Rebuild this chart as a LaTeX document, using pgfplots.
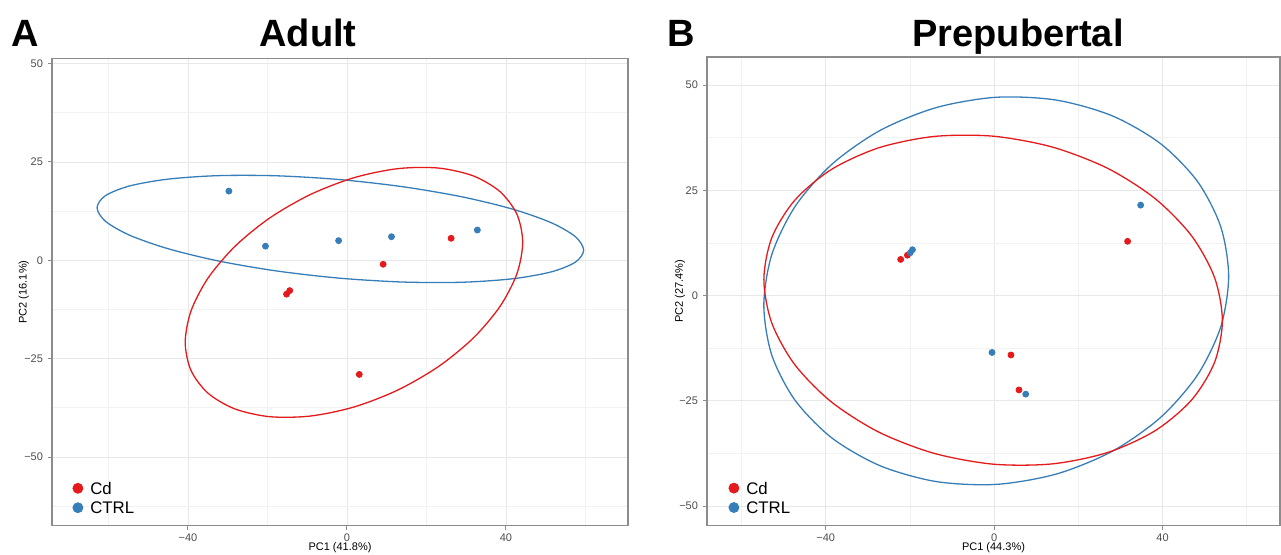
\documentclass[border=0pt]{standalone}
\usepackage{fontspec}
\setmainfont{Liberation Sans}
\usepackage{pgfplots}
\pgfplotsset{compat=1.18}
\definecolor{cdred}{HTML}{E41A1C}
\definecolor{ctrlblue}{HTML}{377EB8}
\definecolor{tickgray}{HTML}{4D4D4D}

\pgfplotsset{
  pca/.style={
    scale only axis,
    axis line style={black!45, line width=0.6pt},
    tick align=outside,
    xtick pos=bottom, ytick pos=left,
    major tick length=2pt,
    minor tick length=0pt,
    tick style={black!45, line width=0.5pt},
    grid=both,
    major grid style={black!9, line width=0.4pt},
    minor grid style={black!5, line width=0.4pt},
    xtick={-40,0,40},
    xticklabels={−40,0,40},
    minor xtick={-60,-20,20,60},
    ytick={-50,-25,0,25,50},
    yticklabels={−50,−25,0,25,50},
    minor ytick={-62.5,-37.5,-12.5,12.5,37.5},
    ticklabel style={font=\fontsize{5.5}{6.5}\selectfont, text=tickgray},
    xticklabel style={yshift=1.6pt},
    yticklabel style={xshift=1pt},
    label style={font=\fontsize{5.5}{6.5}\selectfont},
    legend cell align=left,
    legend style={draw=none, fill=none, inner sep=0pt, outer sep=0pt,
      at={(axis description cs:0,0)}, anchor=south west,
      font=\fontsize{8.4}{10}\selectfont, row sep=3.6pt, column sep=3.5pt,
      nodes={inner sep=0pt, text height=6.1pt, text depth=0pt}},
  },
  ell/.style={line width=0.65pt, smooth cycle, forget plot},
  pts/.style={only marks, mark=*, mark size=1.5pt},
}

\begin{document}
\begin{tikzpicture}
\useasboundingbox (-26pt,-14.25pt) rectangle (614.5pt,262.75pt);

\node[anchor=base west, inner sep=0pt, font=\fontsize{19}{20}\selectfont\bfseries] at (-20.5pt,239.75pt) {A};
\node[anchor=base, inner sep=0pt, font=\fontsize{19}{20}\selectfont\bfseries] at (128pt,239.75pt) {Adult};
\node[anchor=base west, inner sep=0pt, font=\fontsize{19}{20}\selectfont\bfseries] at (307.3pt,239.75pt) {B};
\node[anchor=base, inner sep=0pt, font=\fontsize{19}{20}\selectfont\bfseries] at (483pt,239.75pt) {Prepubertal};

% Adult
\begin{axis}[pca,
  at={(0pt,0pt)}, anchor=south west,
  width=288pt, height=233.5pt,
  xmin=-74.2, xmax=70.7, ymin=-67.4, ymax=51.3,
  xlabel={PC1 (41.8\%)}, ylabel={PC2 (16.1\%)},
  xlabel style={at={(axis description cs:0.5,-0.047)}, anchor=center},
  ylabel style={at={(axis description cs:-0.049,0.5)}, anchor=center},
  legend style={xshift=10.25pt, yshift=5.85pt},
]
\addplot[ell, ctrlblue] coordinates {
(59.54,2.59) (57.45,6.02) (51.34,9.58) (41.61,13.03) (28.94,16.14)
(14.18,18.69) (-1.66,20.51) (-17.5,21.48) (-32.26,21.53) (-44.93,20.65) (-54.66,18.91)
(-60.77,16.43) (-62.86,13.37) (-60.77,9.94) (-54.66,6.38) (-44.93,2.93) (-32.26,-0.18)
(-17.5,-2.73) (-1.66,-4.55) (14.18,-5.52) (28.94,-5.57) (41.61,-4.69) (51.34,-2.95)
(57.45,-0.47)
};
\addplot[ell, cdred] coordinates {
(44.21,4.58) (42.76,11.69) (38.52,17.45) (31.78,21.46) (22.99,23.46)
(12.75,23.30) (1.76,21.0) (-9.23,16.71) (-19.47,10.74) (-28.26,3.47) (-35.0,-4.59)
(-39.24,-12.89) (-40.69,-20.86) (-39.24,-27.97) (-35.0,-33.73) (-28.26,-37.74) (-19.47,-39.74)
(-9.23,-39.58) (1.76,-37.28) (12.75,-32.99) (22.99,-27.02) (31.78,-19.75) (38.52,-11.69)
(42.76,-3.39)
};
\addplot[pts, cdred, legend image code/.code={\fill[cdred] (0pt,0pt) circle (2.5pt);}] coordinates {
(-14.4,-7.7) (-15.2,-8.6) (9.1,-1.0) (26.2,5.6) (3.1,-29.0)
};
\addlegendentry{Cd}
\addplot[pts, ctrlblue, legend image code/.code={\fill[ctrlblue] (0pt,0pt) circle (2.5pt);}] coordinates {
(-29.7,17.6) (-20.5,3.6) (-2.1,5.0) (11.2,6.0) (32.8,7.7)
};
\addlegendentry{CTRL}
\end{axis}

% Prepubertal
\begin{axis}[pca,
  at={(327.5pt,0pt)}, anchor=south west,
  width=286.5pt, height=234.3pt,
  xmin=-68.2, xmax=67.9, ymin=-54.6, ymax=56.7,
  xlabel={PC1 (44.3\%)}, ylabel={PC2 (27.4\%)},
  xlabel style={at={(axis description cs:0.5,-0.047)}, anchor=center},
  ylabel style={at={(axis description cs:-0.047,0.5)}, anchor=center},
  legend style={xshift=10.75pt, yshift=5.95pt},
]
\addplot[ell, ctrlblue] coordinates {
(55.7,4.59) (53.82,16.37) (48.3,27.11) (39.53,36.09) (28.1,42.68)
(14.79,46.44) (0.5,47.11) (-13.79,44.65) (-27.1,39.23) (-38.53,31.21) (-47.3,21.14)
(-52.82,9.71) (-54.7,-2.31) (-52.82,-14.09) (-47.3,-24.83) (-38.53,-33.81) (-27.1,-40.4)
(-13.79,-44.16) (0.5,-44.83) (14.79,-42.37) (28.1,-36.95) (39.53,-28.93) (48.3,-18.86)
(53.82,-7.43)
};
\addplot[ell, cdred] coordinates {
(54.21,-5.95) (52.35,4.30) (46.91,14.18) (38.26,23.02) (26.99,30.22)
(13.85,35.28) (-0.24,37.87) (-14.33,37.80) (-27.47,35.09) (-38.74,29.91) (-47.39,22.61)
(-52.83,13.70) (-54.69,3.79) (-52.83,-6.46) (-47.39,-16.34) (-38.74,-25.18) (-27.47,-32.38)
(-14.33,-37.44) (-0.24,-40.03) (13.85,-39.96) (26.99,-37.25) (38.26,-32.07) (46.91,-24.77)
(52.35,-15.86)
};
\addplot[pts, cdred, legend image code/.code={\fill[cdred] (0pt,0pt) circle (2.5pt);}] coordinates {
(31.7,12.9) (-22.2,8.6) (-20.6,9.6) (4.0,-14.1) (5.9,-22.4)
};
\addlegendentry{Cd}
\addplot[pts, ctrlblue, legend image code/.code={\fill[ctrlblue] (0pt,0pt) circle (2.5pt);}] coordinates {
(34.8,21.5) (-19.4,10.9) (-19.9,10.2) (-0.5,-13.5) (7.5,-23.4)
};
\addlegendentry{CTRL}
\end{axis}
\end{tikzpicture}
\end{document}
